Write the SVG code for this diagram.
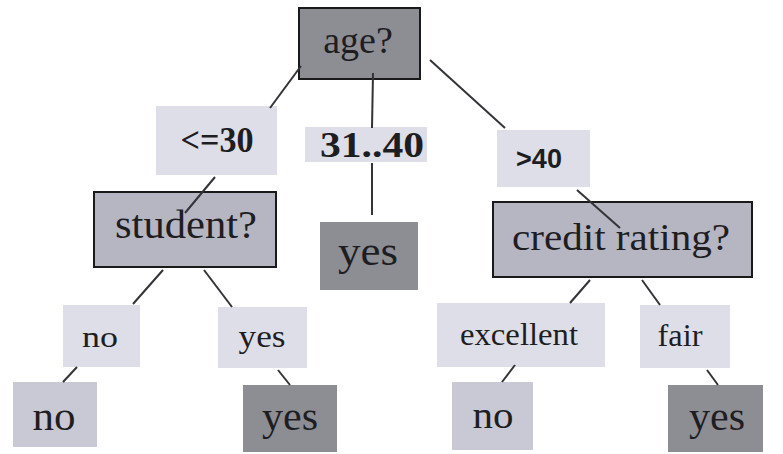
<svg xmlns="http://www.w3.org/2000/svg" width="783" height="454" viewBox="0 0 783 454">
<style>
.dark{fill:#8d8d94}
.darkb{fill:#8d8d94;stroke:#1a1a1a;stroke-width:2}
.mid{fill:#b6b6c2;stroke:#1a1a1a;stroke-width:2}
.lab{fill:#dedee8}
.leafno{fill:#c9c9d6}
.t{font-family:'Liberation Serif','DejaVu Serif','Times New Roman',serif;fill:#1e1e22;text-anchor:middle}
.ts{font-family:'Liberation Sans','DejaVu Sans',Arial,sans-serif;fill:#1e1e22;text-anchor:middle;font-weight:bold}
.c line{stroke:#333338;stroke-width:2}
</style>
<rect width="783" height="454" fill="#ffffff"/>
<g id="age">
<rect class="darkb" x="299" y="8" width="121" height="71"/>
<text class="t" x="358" y="53" font-size="38">age?</text>
</g>
<g id="le30">
<rect class="lab" x="156" y="106" width="121" height="69"/>
<text class="t" x="217" y="152" font-size="35" font-weight="bold" textLength="73" lengthAdjust="spacingAndGlyphs">&lt;=30</text>
</g>
<g id="r3140">
<rect class="lab" x="305" y="127" width="122" height="35"/>
<text class="t" x="372" y="157" font-size="35" font-weight="bold" textLength="104" lengthAdjust="spacingAndGlyphs">31..40</text>
</g>
<g id="gt40">
<rect class="lab" x="497" y="130" width="93" height="57"/>
<text class="ts" x="539" y="168" font-size="27">&gt;40</text>
</g>
<g id="student">
<rect class="mid" x="94" y="192" width="182" height="75"/>
<text class="t" x="186" y="238" font-size="41" textLength="142" lengthAdjust="spacingAndGlyphs">student?</text>
</g>
<g id="yes_mid">
<rect class="dark" x="320" y="222" width="98" height="68"/>
<text class="t" x="368" y="265" font-size="42" textLength="60" lengthAdjust="spacingAndGlyphs">yes</text>
</g>
<g id="credit">
<rect class="mid" x="493" y="202" width="259" height="75"/>
<text class="t" x="621" y="250" font-size="38" textLength="218" lengthAdjust="spacingAndGlyphs">credit rating?</text>
</g>
<g id="no_lab">
<rect class="lab" x="63" y="305" width="77" height="62"/>
<text class="t" x="100" y="347" font-size="30" textLength="36" lengthAdjust="spacingAndGlyphs">no</text>
</g>
<g id="yes_lab">
<rect class="lab" x="218" y="307" width="89" height="61"/>
<text class="t" x="262" y="347" font-size="32" textLength="47" lengthAdjust="spacingAndGlyphs">yes</text>
</g>
<g id="no_leaf1">
<rect class="leafno" x="13" y="382" width="84" height="65"/>
<text class="t" x="54" y="430" font-size="40" textLength="43" lengthAdjust="spacingAndGlyphs">no</text>
</g>
<g id="yes_leaf1">
<rect class="dark" x="243" y="385" width="94" height="67"/>
<text class="t" x="290" y="430" font-size="40" textLength="56" lengthAdjust="spacingAndGlyphs">yes</text>
</g>
<g id="excellent">
<rect class="lab" x="437" y="303" width="168" height="64"/>
<text class="t" x="519" y="345" font-size="32" textLength="118" lengthAdjust="spacingAndGlyphs">excellent</text>
</g>
<g id="fair">
<rect class="lab" x="640" y="305" width="90" height="63"/>
<text class="t" x="680" y="346" font-size="31" textLength="45" lengthAdjust="spacingAndGlyphs">fair</text>
</g>
<g id="no_leaf2">
<rect class="leafno" x="452" y="382" width="81" height="68"/>
<text class="t" x="493" y="428" font-size="38" textLength="41" lengthAdjust="spacingAndGlyphs">no</text>
</g>
<g id="yes_leaf2">
<rect class="dark" x="668" y="385" width="95" height="67"/>
<text class="t" x="717" y="430" font-size="40" textLength="56" lengthAdjust="spacingAndGlyphs">yes</text>
</g>
<g class="c" id="connectors">
<line x1="301" y1="66" x2="270" y2="108"/>
<line x1="373" y1="73" x2="372" y2="128"/>
<line x1="372" y1="163" x2="372" y2="215"/>
<line x1="430" y1="60" x2="505" y2="128"/>
<line x1="577" y1="190" x2="620" y2="228"/>
<line x1="215" y1="177" x2="185" y2="213"/>
<line x1="163" y1="270" x2="133" y2="304"/>
<line x1="204" y1="270" x2="232" y2="307"/>
<line x1="77" y1="367" x2="63" y2="382"/>
<line x1="278" y1="370" x2="290" y2="385"/>
<line x1="590" y1="280" x2="570" y2="303"/>
<line x1="642" y1="280" x2="660" y2="305"/>
<line x1="515" y1="365" x2="502" y2="382"/>
<line x1="707" y1="370" x2="718" y2="385"/>
</g>
</svg>
